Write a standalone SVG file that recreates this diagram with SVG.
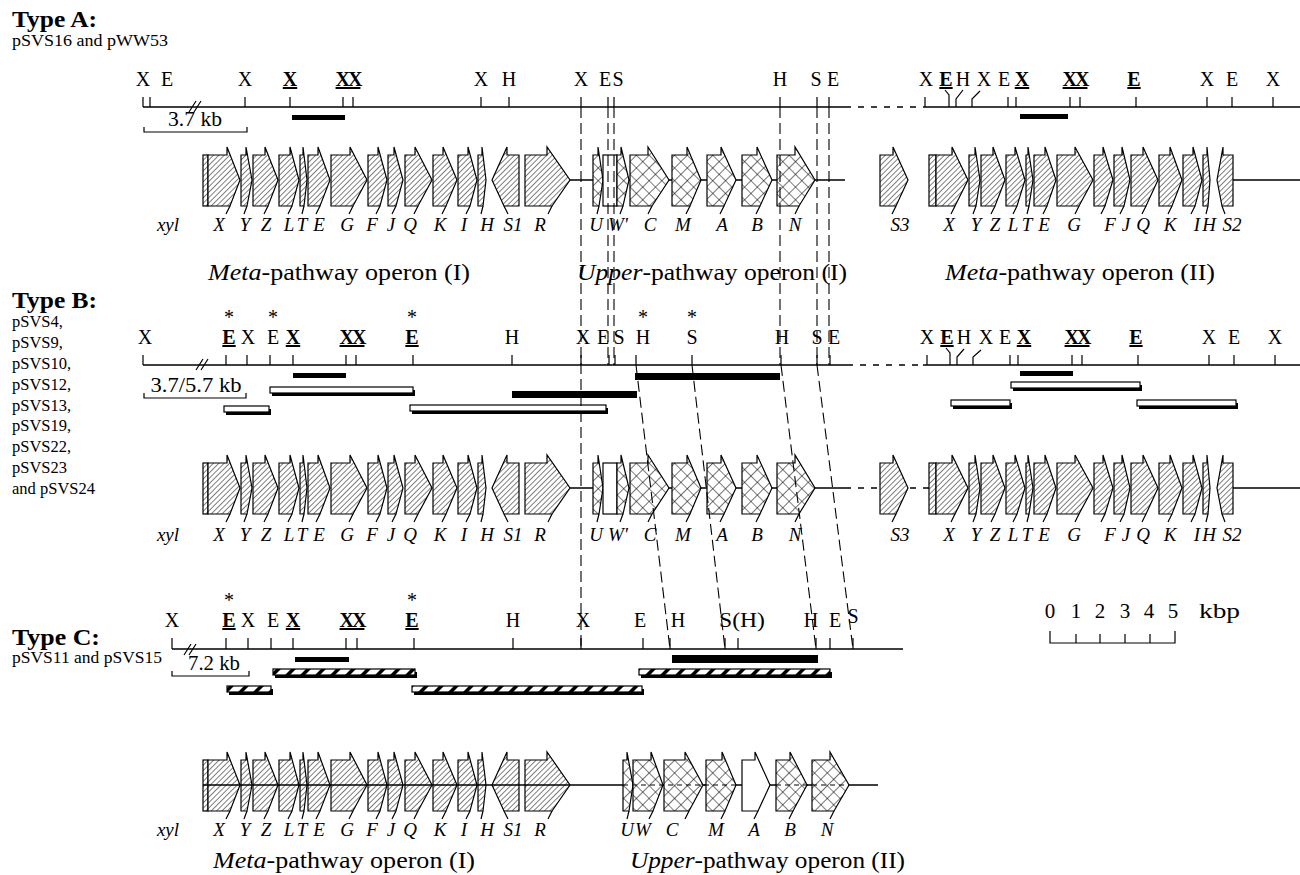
<svg xmlns="http://www.w3.org/2000/svg" width="1300" height="875" viewBox="0 0 1300 875">
<style>
text{font-family:"Liberation Serif","Times New Roman",serif;fill:#000}
.ty{font-size:23px;font-weight:bold}
.pl{font-size:16.5px}
.rs{font-size:20px;text-anchor:middle}
.ul{font-weight:bold;text-decoration:underline}
.st{font-size:20px;text-anchor:middle}
.gl{font-size:19px;font-style:italic;text-anchor:middle}
.op{font-size:23px}
.sc{font-size:21px;text-anchor:middle}
.m{fill:url(#hatch);stroke:#000;stroke-width:1.2}
.u{fill:url(#xhatch);stroke:#000;stroke-width:1.2}
.w{fill:#fff;stroke:#000;stroke-width:1.2}
.sp{stroke:#000;stroke-width:1.2;fill:none}
.ln{stroke:#000;stroke-width:1.4;fill:none}
.dl{stroke:#000;stroke-width:1.3;fill:none;stroke-dasharray:6 7}
.tk{stroke:#000;stroke-width:1.2;fill:none}
.dc{stroke:#000;stroke-width:1.1;fill:none;stroke-dasharray:11 5}
.cd{stroke:#000;stroke-width:1;fill:none;stroke-dasharray:5 4}
.bk{fill:#000}
.ob{fill:#fff;stroke:#000;stroke-width:1.2}
.hb{fill:url(#barh);stroke:#000;stroke-width:1.2}
</style>
<defs>
<pattern id="hatch" width="3.8" height="3.8" patternUnits="userSpaceOnUse" patternTransform="rotate(45)"><rect width="3.8" height="3.8" fill="#fff"/><line x1="0" y1="0" x2="0" y2="3.8" stroke="#000" stroke-width="1"/></pattern>
<pattern id="xhatch" width="9" height="9" patternUnits="userSpaceOnUse" patternTransform="rotate(45)"><rect width="9" height="9" fill="#fff"/><path d="M0,0V9M0,0H9" stroke="#000" stroke-width="1.1"/></pattern>
<pattern id="barh" width="15" height="20" patternUnits="userSpaceOnUse" patternTransform="skewX(-45)"><rect width="15" height="20" fill="#fff"/><rect width="5" height="20" fill="#000"/></pattern>
<g id="metaI">
<rect class="m" x="203" y="-25" width="5" height="51"/>
<polygon class="m" points="208,-25 227,-25 227,-33 240,0 230,26 208,26"/>
<polygon class="m" points="241,-25 246,-25 246,-33 252,0 247,26 241,26"/>
<polygon class="m" points="253,-25 265,-25 265,-33 278,0 268,26 253,26"/>
<polygon class="m" points="279,-25 290,-25 290,-33 299,0 292,26 279,26"/>
<polygon class="m" points="300,-25 303,-25 303,-33 307,0 304,26 300,26"/>
<polygon class="m" points="308,-25 318,-25 318,-33 330,0 320,26 308,26"/>
<polygon class="m" points="331,-25 350,-25 350,-33 367,0 353,26 331,26"/>
<polygon class="m" points="368,-25 378,-25 378,-33 387,0 380,26 368,26"/>
<polygon class="m" points="388,-25 394,-25 394,-33 403,0 396,26 388,26"/>
<polygon class="m" points="405,-25 415,-25 415,-33 432,0 418,26 405,26"/>
<polygon class="m" points="433,-25 443,-25 443,-33 457,0 446,26 433,26"/>
<polygon class="m" points="458,-25 468,-25 468,-33 477,0 470,26 458,26"/>
<polygon class="m" points="478,-25 482,-25 482,-33 486,0 483,26 478,26"/>
<polygon class="m" points="519,-25 507,-25 507,-33 492,0 504,26 519,26"/>
<polygon class="m" points="525,-25 547,-25 547,-33 570,0 552,26 525,26"/>
<path class="sp" d="M230,26l-4,8M247,26l-3,8M268,26l-4,8M292,26l-4,8M304,26l-2,8M320,26l-4,8M353,26l-4,8M380,26l-4,8M396,26l-4,8M418,26l-4,8M446,26l-4,8M470,26l-4,8M483,26l-2,8M504,26l4,8M552,26l-4,8"/>
</g>
<g id="upperI">
<polygon class="u" points="593,-25 598,-25 598,-33 603,0 599,26 593,26"/>
<rect class="w" x="603" y="-25" width="14" height="51"/>
<polygon class="u" points="617,-25 621,-25 621,-33 629,0 623,26 617,26"/>
<polygon class="u" points="630,-25 648,-25 648,-33 669,0 652,26 630,26"/>
<polygon class="u" points="672,-25 687,-25 687,-33 701,0 690,26 672,26"/>
<polygon class="u" points="707,-25 721,-25 721,-33 736,0 724,26 707,26"/>
<polygon class="u" points="742,-25 757,-25 757,-33 772,0 760,26 742,26"/>
<polygon class="u" points="777,-25 795,-25 795,-33 815,0 799,26 777,26"/>
<path class="sp" d="M599,26l-2,8M623,26l-3,8M652,26l-4,8M690,26l-4,8M724,26l-4,8M760,26l-4,8M799,26l-4,8"/>
</g>
<g id="s3">
<polygon class="m" points="880,-25 893,-25 893,-33 908,0 896,26 880,26"/>
<path class="sp" d="M896,26l-4,8"/>
</g>
<g id="metaII">
<rect class="m" x="929" y="-25" width="7" height="51"/>
<polygon class="m" points="936,-25 952,-25 952,-33 968,0 955,26 936,26"/>
<polygon class="m" points="969,-25 975,-25 975,-33 980,0 976,26 969,26"/>
<polygon class="m" points="981,-25 993,-25 993,-33 1005,0 995,26 981,26"/>
<polygon class="m" points="1006,-25 1015,-25 1015,-33 1025,0 1017,26 1006,26"/>
<polygon class="m" points="1026,-25 1028,-25 1028,-33 1033,0 1029,26 1026,26"/>
<polygon class="m" points="1034,-25 1045,-25 1045,-33 1056,0 1047,26 1034,26"/>
<polygon class="m" points="1057,-25 1075,-25 1075,-33 1093,0 1079,26 1057,26"/>
<polygon class="m" points="1094,-25 1103,-25 1103,-33 1113,0 1105,26 1094,26"/>
<polygon class="m" points="1114,-25 1122,-25 1122,-33 1130,0 1124,26 1114,26"/>
<polygon class="m" points="1131,-25 1143,-25 1143,-33 1158,0 1146,26 1131,26"/>
<polygon class="m" points="1159,-25 1170,-25 1170,-33 1182,0 1172,26 1159,26"/>
<polygon class="m" points="1183,-25 1193,-25 1193,-33 1202,0 1195,26 1183,26"/>
<polygon class="m" points="1203,-25 1207,-25 1207,-33 1210,0 1208,26 1203,26"/>
<polygon class="m" points="1233,-25 1223,-25 1223,-33 1217,0 1222,26 1233,26"/>
<path class="sp" d="M955,26l-4,8M976,26l-3,8M995,26l-4,8M1017,26l-4,8M1029,26l-2,8M1047,26l-4,8M1079,26l-4,8M1105,26l-4,8M1124,26l-4,8M1146,26l-4,8M1172,26l-4,8M1195,26l-4,8M1208,26l-2,8M1222,26l3,8"/>
</g>
<g id="upperII">
<polygon class="u" points="623,-25 627,-25 627,-33 633,0 629,26 623,26"/>
<polygon class="u" points="633,-25 651,-25 651,-33 663,0 653,26 633,26"/>
<polygon class="u" points="664,-25 685,-25 685,-33 703,0 689,26 664,26"/>
<polygon class="u" points="706,-25 722,-25 722,-33 736,0 725,26 706,26"/>
<polygon class="w" points="742,-25 755,-25 755,-33 770,0 758,26 742,26"/>
<polygon class="u" points="776,-25 790,-25 790,-33 807,0 793,26 776,26"/>
<polygon class="u" points="812,-25 830,-25 830,-33 849,0 834,26 812,26"/>
<path class="sp" d="M629,26l-2,8M653,26l-4,8M689,26l-4,8M725,26l-4,8M758,26l-4,8M793,26l-4,8M834,26l-4,8"/>
</g>
<g id="metaLabels">
<text class="gl" x="168">xyl</text><text class="gl" x="219">X</text><text class="gl" x="245">Y</text><text class="gl" x="266">Z</text><text class="gl" x="289">L</text><text class="gl" x="302">T</text><text class="gl" x="319">E</text><text class="gl" x="347">G</text><text class="gl" x="372">F</text><text class="gl" x="391">J</text><text class="gl" x="410">Q</text><text class="gl" x="440">K</text><text class="gl" x="464">I</text><text class="gl" x="487">H</text><text class="gl" x="513">S1</text><text class="gl" x="540">R</text>
</g>
<g id="restLabels">
<text class="gl" x="596">U</text><text class="gl" x="618">W'</text><text class="gl" x="650">C</text><text class="gl" x="683">M</text><text class="gl" x="722">A</text><text class="gl" x="757">B</text><text class="gl" x="795">N</text>
<text class="gl" x="900">S3</text><text class="gl" x="949">X</text><text class="gl" x="976">Y</text><text class="gl" x="995">Z</text><text class="gl" x="1013">L</text><text class="gl" x="1027">T</text><text class="gl" x="1044">E</text><text class="gl" x="1074">G</text><text class="gl" x="1110">F</text><text class="gl" x="1126">J</text><text class="gl" x="1143">Q</text><text class="gl" x="1170">K</text><text class="gl" x="1197">I</text><text class="gl" x="1209">H</text><text class="gl" x="1232">S2</text>
</g>
</defs>

<rect width="1300" height="875" fill="#fff"/>

<g id="titles">
<text class="ty" x="12" y="27" textLength="85" lengthAdjust="spacingAndGlyphs">Type A:</text>
<text class="pl" x="12" y="46" textLength="156" lengthAdjust="spacingAndGlyphs">pSVS16 and pWW53</text>
<text class="ty" x="12" y="308" textLength="85" lengthAdjust="spacingAndGlyphs">Type B:</text>
<text class="pl" x="12" y="327">pSVS4,</text>
<text class="pl" x="12" y="348">pSVS9,</text>
<text class="pl" x="12" y="369">pSVS10,</text>
<text class="pl" x="12" y="390">pSVS12,</text>
<text class="pl" x="12" y="411">pSVS13,</text>
<text class="pl" x="12" y="431">pSVS19,</text>
<text class="pl" x="12" y="452">pSVS22,</text>
<text class="pl" x="12" y="473">pSVS23</text>
<text class="pl" x="12" y="494">and pSVS24</text>
<text class="ty" x="12" y="645" textLength="88" lengthAdjust="spacingAndGlyphs">Type C:</text>
<text class="pl" x="12" y="663" textLength="150" lengthAdjust="spacingAndGlyphs">pSVS11 and pSVS15</text>
</g>

<g id="mapA">
<path class="ln" d="M143,107H845M923,107H1300"/>
<path class="dl" d="M845,107H923"/>
<path class="tk" d="M143,107V97M150,107V97M245,107V97M290,107V97M343,107V97M353,107V97M481,107V97M509,107V97M581,107V97M608,107V97M614,107V97M780,107V97M817,107V97M829,107V97M925,107V97M949,107V95L945,90M956,107V99L963,90M972,107V99L980,91M1008,107V97M1016,107V97M1070,107V97M1080,107V97M1136,107V97M1207,107V97M1232,107V97M1273,107V97"/>
<path class="tk" d="M189,112L196,101M194,112L201,101"/>
<path class="tk" d="M144,127V132H247V127"/>
<text class="sc" x="195" y="126" textLength="54" lengthAdjust="spacingAndGlyphs">3.7 kb</text>
<text class="rs" x="143" y="86">X</text><text class="rs" x="167" y="86">E</text><text class="rs" x="245" y="86">X</text><text class="rs ul" x="290" y="86">X</text><text class="rs ul" x="348" y="86" letter-spacing="-2">XX</text>
<text class="rs" x="481" y="86">X</text><text class="rs" x="509" y="86">H</text><text class="rs" x="581" y="86">X</text><text class="rs" x="605" y="86">E</text><text class="rs" x="618" y="86">S</text><text class="rs" x="780" y="86">H</text><text class="rs" x="816" y="86">S</text><text class="rs" x="833" y="86">E</text>
<text class="rs" x="926" y="86">X</text><text class="rs ul" x="946" y="86">E</text><text class="rs" x="963" y="86">H</text><text class="rs" x="984" y="86">X</text><text class="rs" x="1004" y="86">E</text><text class="rs ul" x="1022" y="86">X</text><text class="rs ul" x="1075" y="86" letter-spacing="-2">XX</text><text class="rs ul" x="1134" y="86">E</text><text class="rs" x="1207" y="86">X</text><text class="rs" x="1232" y="86">E</text><text class="rs" x="1273" y="86">X</text>
<rect class="bk" x="292" y="115" width="53" height="5"/>
<rect class="bk" x="1020" y="114" width="48" height="5"/>
</g>

<g id="genesA">
<path class="ln" d="M570,180H845M1233,180H1300"/>
<use href="#metaI" transform="translate(0,180)"/>
<use href="#upperI" transform="translate(0,180)"/>
<use href="#s3" transform="translate(0,180)"/>
<use href="#metaII" transform="translate(0,180)"/>
<use href="#metaLabels" transform="translate(0,231)"/>
<use href="#restLabels" transform="translate(0,231)"/>
<text class="op" x="208" y="280" textLength="262" lengthAdjust="spacingAndGlyphs"><tspan font-style="italic">Meta</tspan>-pathway operon (I)</text>
<text class="op" x="577" y="280" textLength="270" lengthAdjust="spacingAndGlyphs"><tspan font-style="italic">Upper</tspan>-pathway operon (I)</text>
<text class="op" x="945" y="280" textLength="270" lengthAdjust="spacingAndGlyphs"><tspan font-style="italic">Meta</tspan>-pathway operon (II)</text>
</g>

<g id="mapB">
<path class="ln" d="M143,365H847M923,365H1300"/>
<path class="dl" d="M847,365H923"/>
<path class="tk" d="M143,365V355M226,365V355M247,365V355M270,365V355M293,365V355M346,365V355M356,365V355M413,365V355M512,365V355M581,365V355M609,365V355M615,365V355M636,365V355M692,365V355M781,365V355M817,365V355M830,365V355M927,365V355M950,365V353L946,348M957,365V357L964,349M973,365V357L981,350M1010,365V355M1018,365V355M1072,365V355M1082,365V355M1138,365V355M1209,365V355M1234,365V355M1275,365V355"/>
<path class="tk" d="M196,370L203,359M201,370L208,359"/>
<path class="tk" d="M144,393V398H246V393"/>
<text class="sc" x="196" y="392" textLength="91" lengthAdjust="spacingAndGlyphs">3.7/5.7 kb</text>
<text class="st" x="229" y="324">*</text><text class="st" x="273" y="324">*</text><text class="st" x="412" y="324">*</text><text class="st" x="643" y="324">*</text><text class="st" x="692" y="324">*</text>
<text class="rs" x="145" y="344">X</text><text class="rs ul" x="229" y="344">E</text><text class="rs" x="248" y="344">X</text><text class="rs" x="273" y="344">E</text><text class="rs ul" x="293" y="344">X</text><text class="rs ul" x="352" y="344" letter-spacing="-2">XX</text><text class="rs ul" x="412" y="344">E</text>
<text class="rs" x="512" y="344">H</text><text class="rs" x="583" y="344">X</text><text class="rs" x="603" y="344">E</text><text class="rs" x="619" y="344">S</text><text class="rs" x="643" y="344">H</text><text class="rs" x="692" y="344">S</text><text class="rs" x="782" y="344">H</text><text class="rs" x="817" y="344">S</text><text class="rs" x="834" y="344">E</text>
<text class="rs" x="927" y="344">X</text><text class="rs ul" x="947" y="344">E</text><text class="rs" x="964" y="344">H</text><text class="rs" x="986" y="344">X</text><text class="rs" x="1005" y="344">E</text><text class="rs ul" x="1024" y="344">X</text><text class="rs ul" x="1077" y="344" letter-spacing="-2">XX</text><text class="rs ul" x="1136" y="344">E</text><text class="rs" x="1209" y="344">X</text><text class="rs" x="1234" y="344">E</text><text class="rs" x="1275" y="344">X</text>
<rect class="bk" x="293" y="373" width="53" height="5"/>
<rect class="bk" x="635" y="373" width="145" height="7"/>
<rect class="bk" x="512" y="391" width="125" height="7"/>
<rect class="bk" x="272" y="390" width="143" height="6"/><rect class="ob" x="270" y="387" width="143" height="6"/>
<rect class="bk" x="226" y="409" width="45" height="6"/><rect class="ob" x="224" y="406" width="45" height="6"/>
<rect class="bk" x="412" y="408" width="196" height="6"/><rect class="ob" x="410" y="405" width="196" height="6"/>
<rect class="bk" x="1020" y="371" width="53" height="5"/>
<rect class="bk" x="1013" y="385" width="129" height="6"/><rect class="ob" x="1011" y="382" width="129" height="6"/>
<rect class="bk" x="953" y="403" width="59" height="6"/><rect class="ob" x="951" y="400" width="59" height="6"/>
<rect class="bk" x="1139" y="403" width="99" height="6"/><rect class="ob" x="1137" y="400" width="99" height="6"/>
</g>

<g id="genesB">
<path class="ln" d="M570,488H845M1233,488H1300"/>
<path class="dl" d="M845,488H929"/>
<use href="#metaI" transform="translate(0,488)"/>
<use href="#upperI" transform="translate(0,488)"/>
<use href="#s3" transform="translate(0,488)"/>
<use href="#metaII" transform="translate(0,488)"/>
<use href="#metaLabels" transform="translate(0,541)"/>
<use href="#restLabels" transform="translate(0,541)"/>
</g>

<g id="mapC">
<path class="ln" d="M172,649H903"/>
<path class="tk" d="M172,649V638M226,649V638M248,649V638M271,649V638M293,649V638M346,649V638M357,649V638M414,649V638M513,649V638M581,649V638M643,649V638M670,649V638M725,649V638M738,649V638M816,649V638M830,649V638M853,649V638"/>
<path class="tk" d="M184,655L191,644M189,655L196,644"/>
<path class="tk" d="M172,671V676H249V671"/>
<text class="sc" x="214" y="670" textLength="52" lengthAdjust="spacingAndGlyphs">7.2 kb</text>
<text class="st" x="229" y="607">*</text><text class="st" x="412" y="607">*</text>
<text class="rs" x="172" y="627">X</text><text class="rs ul" x="229" y="627">E</text><text class="rs" x="248" y="627">X</text><text class="rs" x="273" y="627">E</text><text class="rs ul" x="293" y="627">X</text><text class="rs ul" x="352" y="627" letter-spacing="-2">XX</text><text class="rs ul" x="412" y="627">E</text>
<text class="rs" x="513" y="627">H</text><text class="rs" x="583" y="627">X</text><text class="rs" x="640" y="627">E</text><text class="rs" x="678" y="627">H</text><text x="719" y="627" font-size="20" textLength="46" lengthAdjust="spacingAndGlyphs">S(H)</text><text class="rs" x="811" y="627">H</text><text class="rs" x="835" y="627">E</text><text class="rs" x="853" y="623">S</text>
<rect class="bk" x="295" y="657" width="54" height="5"/>
<rect class="bk" x="672" y="655" width="146" height="8"/>
<rect class="bk" x="275" y="672" width="142" height="6"/><rect class="hb" x="273" y="669" width="142" height="6"/>
<rect class="bk" x="641" y="672" width="191" height="6"/><rect class="hb" x="639" y="669" width="191" height="6"/>
<rect class="bk" x="229" y="689" width="44" height="6"/><rect class="hb" x="227" y="686" width="44" height="6"/>
<rect class="bk" x="414" y="689" width="230" height="6"/><rect class="hb" x="412" y="686" width="230" height="6"/>
</g>

<g id="genesC">
<path class="ln" d="M570,785H878"/>
<use href="#metaI" transform="translate(0,785)"/>
<use href="#upperII" transform="translate(0,785)"/>
<path class="ln" d="M203,785H570" stroke-width="1"/>
<path class="cd" d="M623,785H736M776,785H849"/>
<use href="#metaLabels" transform="translate(0,836)"/>
<text class="gl" x="627" y="836">U</text><text class="gl" x="643" y="836">W</text><text class="gl" x="672" y="836">C</text><text class="gl" x="716" y="836">M</text><text class="gl" x="754" y="836">A</text><text class="gl" x="790" y="836">B</text><text class="gl" x="827" y="836">N</text>
<text class="op" x="213" y="868" textLength="262" lengthAdjust="spacingAndGlyphs"><tspan font-style="italic">Meta</tspan>-pathway operon (I)</text>
<text class="op" x="630" y="868" textLength="275" lengthAdjust="spacingAndGlyphs"><tspan font-style="italic">Upper</tspan>-pathway operon (II)</text>
</g>

<g id="scale">
<text class="sc" x="1050" y="618">0</text><text class="sc" x="1076" y="618">1</text><text class="sc" x="1100" y="618">2</text><text class="sc" x="1125" y="618">3</text><text class="sc" x="1149" y="618">4</text><text class="sc" x="1173" y="618">5</text>
<text x="1199" y="618" font-size="21" textLength="41" lengthAdjust="spacingAndGlyphs">kbp</text>
<path class="tk" d="M1050,631V643H1175V631M1076,643V634M1100,643V634M1125,643V634M1150,643V634"/>
</g>

<g id="connectors">
<path class="dc" d="M581,107V649M608,107V365M614,107V365M780,107V365M817,107V365M829,107V365"/>
<path class="dc" d="M636,365L670,649M692,365L725,649M781,365L816,649M817,365L853,649"/>
</g>
</svg>
